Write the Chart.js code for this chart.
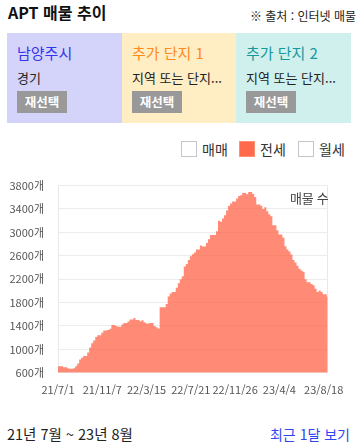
<!DOCTYPE html>
<html lang="ko">
<head>
<meta charset="utf-8">
<script src="https://cdn.jsdelivr.net/npm/chart.js@4.4.1/dist/chart.umd.min.js"></script>
<style>
  html, body { margin: 0; padding: 0; background: #fff; }
  body { width: 358px; height: 447px; position: relative; overflow: hidden;
         font-family: "Noto Sans CJK KR", "Noto Sans", sans-serif; color: #222; }
  .abs { position: absolute; white-space: nowrap; }
  #title { left: 8px; top: 1px; font-size: 16px; font-weight: bold; line-height: 22px; color: #111; }
  #source { right: 2px; top: 8px; font-size: 12px; line-height: 16px; color: #222; }
  .box { position: absolute; top: 33px; height: 90px; width: 115px; box-sizing: border-box; padding-left: 10px; }
  .box .name { position: absolute; left: 10px; top: 10px; font-size: 15px; line-height: 20px; }
  .box .sub { position: absolute; left: 10px; top: 36px; font-size: 13px; line-height: 18px; color: #222; }
  .box .btn { position: absolute; left: 10px; top: 58px; width: 50px; height: 22px; background: #999;
              color: #fff; font-size: 12.5px; font-weight: bold; line-height: 22px; text-align: center; }
  #b1 { left: 7px; background: rgb(212,212,250); }
  #b2 { left: 122px; width: 114px; background: rgb(255,237,196); }
  #b3 { left: 236px; background: rgb(208,240,238); }
  #b1 .name { color: #3434ee; }
  #b2 .name { color: #ff8a1c; }
  #b3 .name { color: #16999b; }
  .chk { position: absolute; top: 141px; width: 14px; height: 14px; border: 1px solid #c4c4cc; background: #fff; }
  .lbl { position: absolute; top: 139px; font-size: 14px; line-height: 20px; color: #333; }
  #chartWrap { position: absolute; left: 0; top: 165px; width: 358px; height: 240px; }
  #range { left: 7px; top: 424px; font-size: 14.5px; line-height: 20px; color: #222; }
  #recent { right: 8px; top: 424px; font-size: 14px; line-height: 20px; color: #2f45f0; }
</style>
</head>
<body>
<div id="title" class="abs">APT 매물 추이</div>
<div id="source" class="abs">※ 출처 : 인터넷 매물</div>

<div id="b1" class="box"><div class="name">남양주시</div><div class="sub">경기</div><div class="btn">재선택</div></div>
<div id="b2" class="box"><div class="name">추가 단지 1</div><div class="sub">지역 또는 단지...</div><div class="btn">재선택</div></div>
<div id="b3" class="box"><div class="name">추가 단지 2</div><div class="sub">지역 또는 단지...</div><div class="btn">재선택</div></div>

<div class="chk" style="left:181px;"></div><div class="lbl" style="left:202px;">매매</div>
<div class="chk" style="left:239px;background:#ff6a4c;border-color:#ff8f75;"></div><div class="lbl" style="left:260px;">전세</div>
<div class="chk" style="left:298px;"></div><div class="lbl" style="left:319px;">월세</div>

<div id="chartWrap"><canvas id="c"></canvas></div>

<div id="range" class="abs">21년 7월 ~ 23년 8월</div>
<div id="recent" class="abs">최근 1달 보기</div>

<script>
// Tick labels shown on the x axis (every 22nd data point)
const tickLabels = ['21/7/1', '21/11/7', '22/3/15', '22/7/21', '22/11/26', '23/4/4', '23/8/18'];
const tickEvery = 22;

// 전세 listing counts
const jeonseCounts = [
  712,712,712,693,693,675,667,667,676,710,
  759,824,857,887,887,944,1030,1103,1152,1212,
  1239,1239,1283,1321,1321,1332,1353,1414,1414,1397,
  1386,1386,1425,1452,1452,1475,1512,1512,1534,1501,
  1501,1480,1497,1463,1442,1442,1452,1452,1398,1376,
  1355,1720,1720,1720,1774,1905,1955,1982,1982,2053,
  2130,2200,2250,2418,2457,2528,2593,2626,2654,2708,
  2708,2774,2757,2757,2818,2883,2954,2954,2954,3019,
  3200,3183,3237,3293,3375,3457,3494,3527,3527,3581,
  3620,3637,3675,3675,3650,3691,3691,3658,3604,3478,
  3478,3457,3401,3429,3363,3309,3276,3120,3120,3036,
  2965,2965,2910,2762,2708,2675,2621,2528,2484,2430,
  2376,2348,2326,2200,2146,2146,2118,2097,2036,1982,
  2004,1982,1943,1943,1900
];

// y axis range
const yMin = 600, yMax = 3800, yStep = 400;

// categories: one per data point, the tick label where one is shown
const categories = jeonseCounts.map((_, i) => (i % tickEvery === 0 && tickLabels[i / tickEvery]) ? tickLabels[i / tickEvery] : '');

const FONT = '"Noto Sans CJK KR", "Noto Sans", sans-serif';
const lastIndex = jeonseCounts.length - 1;

const cornerText = {
  id: 'cornerText',
  afterDraw(chart) {
    const { ctx, chartArea } = chart;
    ctx.save();
    ctx.font = '13px ' + FONT;
    ctx.fillStyle = '#444';
    ctx.textAlign = 'right';
    ctx.textBaseline = 'middle';
    ctx.fillText('매물 수', chartArea.right + 1, chartArea.top + 12);
    ctx.restore();
  }
};

new Chart(document.getElementById('c'), {
  type: 'line',
  data: {
    labels: categories,
    datasets: [{
      label: '전세',
      data: jeonseCounts,
      stepped: 'middle',
      fill: 'start',
      backgroundColor: 'rgba(255,99,71,0.75)',
      borderWidth: 0,
      pointRadius: 0,
      pointHoverRadius: 0
    }]
  },
  options: {
    responsive: true,
    maintainAspectRatio: false,
    animation: false,
    layout: { padding: { top: 12.3, right: 30.3, left: 0, bottom: 0 } },
    plugins: { legend: { display: false }, tooltip: { enabled: false } },
    scales: {
      x: {
        offset: false,
        afterFit(scale) { scale.height = 32.3; },
        border: { display: false },
        grid: {
          drawTicks: false,
          color: ctx => (ctx.index === lastIndex ? '#e8e8e8' : 'rgba(0,0,0,0)'),
          lineWidth: 1
        },
        ticks: {
          autoSkip: false,
          maxRotation: 0,
          minRotation: 0,
          padding: 11,
          color: '#555',
          font: { family: FONT, size: 11 },
          callback(v) { return this.getLabelForValue(v); }
        }
      },
      y: {
        min: yMin,
        max: yMax,
        afterFit(scale) { scale.width = 58; },
        border: { display: true, color: '#e8e8e8' },
        grid: { drawTicks: false, color: '#ececec' },
        ticks: {
          stepSize: yStep,
          padding: 14,
          color: '#555',
          font: { family: FONT, size: 11 },
          callback: v => v + '개'
        }
      }
    }
  },
  plugins: [cornerText]
});
</script>
</body>
</html>
